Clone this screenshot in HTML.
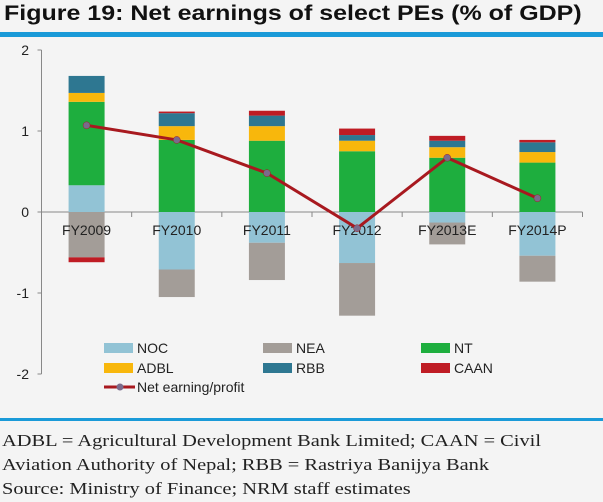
<!DOCTYPE html>
<html><head><meta charset="utf-8"><style>
body{margin:0;width:603px;height:502px;background:#f4f4f4;overflow:hidden;font-family:"Liberation Sans",sans-serif}
#title{position:absolute;left:4px;top:2px;font-weight:bold;font-size:21px;color:#111;transform:scaleX(1.19);transform-origin:0 0;white-space:nowrap}
.bar{position:absolute;left:0;width:603px;background:#1a9ad8}
.foot{position:absolute;left:2px;font-family:"Liberation Serif",serif;font-size:17px;color:#222;line-height:24px;transform:scaleX(1.2);transform-origin:0 0;white-space:nowrap}
</style></head><body>
<div id="title">Figure 19: Net earnings of select PEs (% of GDP)</div>
<div class="bar" style="top:32px;height:5px"></div>
<svg id="c" width="603" height="415" style="position:absolute;left:0;top:0"></svg>
<div class="bar" style="top:418px;height:3px"></div>
<div class="foot" style="top:429px">ADBL = Agricultural Development Bank Limited; CAAN = Civil<br>Aviation Authority of Nepal; RBB = Rastriya Banijya Bank<br>Source: Ministry of Finance; NRM staff estimates</div>
<script>
const categories=["FY2009","FY2010","FY2011","FY2012","FY2013E","FY2014P"];
const NOC=[0.33,-0.71,-0.38,-0.63,-0.13,-0.54];
const NEA=[-0.56,-0.34,-0.46,-0.65,-0.27,-0.32];
const NT=[1.03,0.89,0.88,0.75,0.67,0.61];
const ADBL=[0.11,0.17,0.18,0.13,0.13,0.13];
const RBB=[0.21,0.16,0.13,0.07,0.08,0.12];
const CAAN=[-0.06,0.02,0.06,0.08,0.06,0.03];
const netEarning=[1.07,0.89,0.48,-0.20,0.67,0.17];
const yTicks=[2,1,0,-1,-2];
const series=[["NOC",NOC,"#92c3d5"],["NEA",NEA,"#a39d98"],["NT",NT,"#1eae3e"],["ADBL",ADBL,"#f8b70c"],["RBB",RBB,"#2e7791"],["CAAN",CAAN,"#bf1c24"]];
const svg=document.getElementById('c'),NS="http://www.w3.org/2000/svg";
const x0=41.5,x1=582.5,step=(x1-x0)/categories.length,bw=36;
const y=v=>212-v*81;const xc=i=>x0+step*(i+0.5);
function mk(t,a,p){const e=document.createElementNS(NS,t);for(const k in a)e.setAttribute(k,a[k]);(p||svg).appendChild(e);return e;}
let ax=mk('line',{x1:x0,y1:y(2),x2:x0,y2:y(-2),stroke:'#888'});


yTicks.forEach(t=>{mk('line',{x1:x0-4,x2:x0,y1:y(t),y2:y(t),stroke:'#888'});
let l=mk('text',{x:29,y:y(t)+5,'text-anchor':'end','font-size':14,fill:'#222'});l.textContent=t;

});
let xa=mk('line',{x1:x0,y1:y(0),x2:x1,y2:y(0),stroke:'#888'});


categories.forEach((c,i)=>{
 let pos=0,neg=0;
 series.forEach(([n,arr,col])=>{const v=arr[i];if(!v)return;let a,b;
  if(v>0){a=pos;b=pos+v;pos=b;}else{a=neg;b=neg+v;neg=b;}
  const r=mk('rect',{x:xc(i)-bw/2,y:Math.min(y(a),y(b)),width:bw,height:Math.abs(y(a)-y(b)),fill:col});
  
  });
 mk('line',{x1:x0+step*(i+1),x2:x0+step*(i+1),y1:y(0),y2:y(0)+5,stroke:'#888'});
 const l=mk('text',{x:xc(i),y:y(0)+23,'text-anchor':'middle','font-size':14,fill:'#222'});l.textContent=c;
 
 
});
const pl=mk('polyline',{points:netEarning.map((v,i)=>xc(i)+','+y(v)).join(' '),fill:'none',stroke:'#a8191f','stroke-width':3});


netEarning.forEach((v,i)=>{const p=mk('circle',{cx:xc(i),cy:y(v),r:3.5,fill:'#7a6b8c',stroke:'#a8191f','stroke-width':0.5});

});
const lx=[104,263,421];
series.forEach(([n,a,col],k)=>{const gx=lx[k%3],gy=348+Math.floor(k/3)*20;
 const r=mk('rect',{x:gx,y:gy-5,width:29,height:10,fill:col});
 
 
 const t=mk('text',{x:gx+33,y:gy+5,'font-size':14,fill:'#222'});t.textContent=n;
 
 });
mk('line',{x1:104,x2:135,y1:387,y2:387,stroke:'#a8191f','stroke-width':3});
mk('circle',{cx:120,cy:387,r:3.5,fill:'#7a6b8c'});
const lt=mk('text',{x:137,y:392,'font-size':14,fill:'#222'});lt.textContent='Net earning/profit';


</script>
</body></html>
